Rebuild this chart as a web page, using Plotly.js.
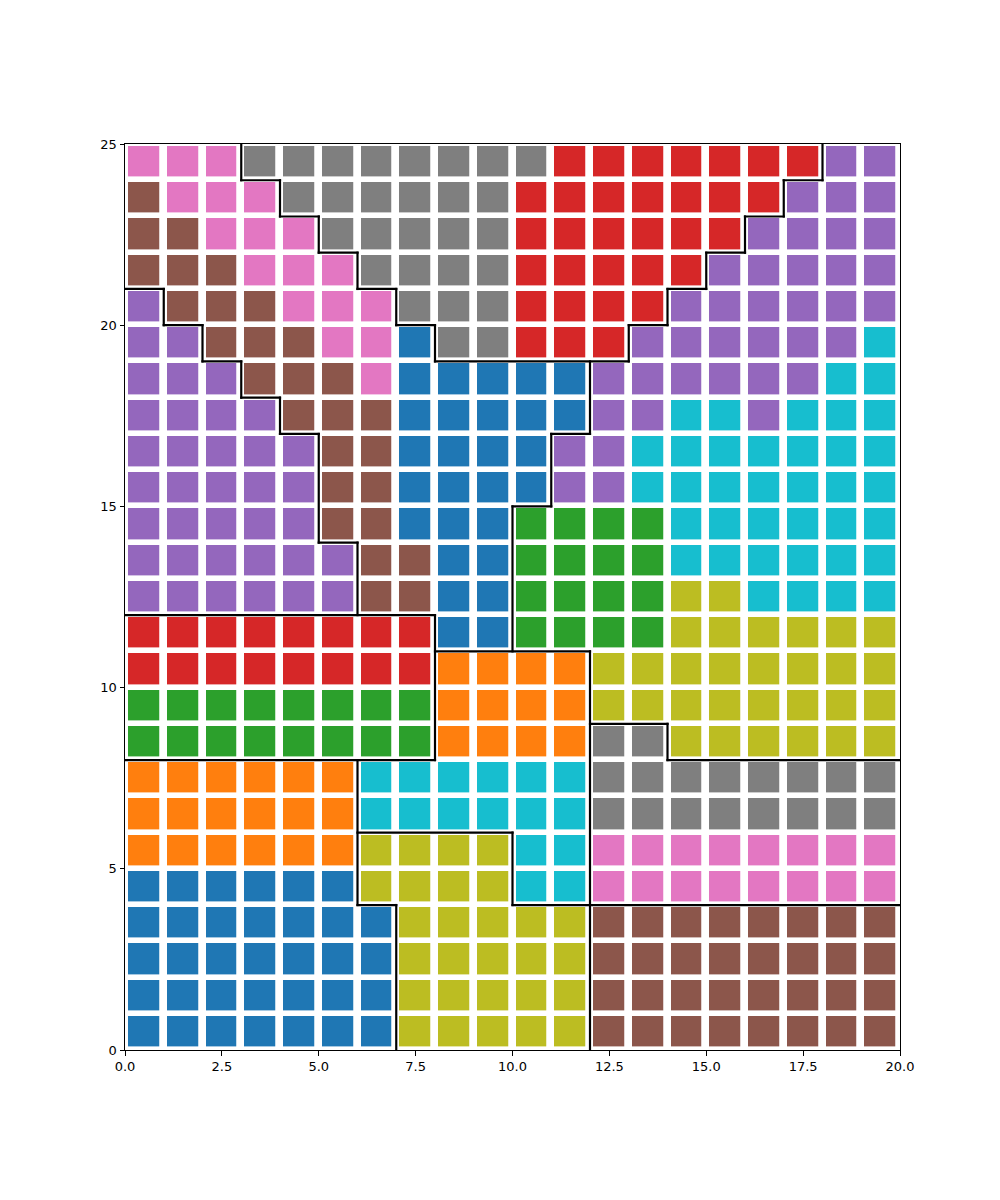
<!DOCTYPE html>
<html>
<head>
<meta charset="utf-8">
<script src="https://cdn.plot.ly/plotly-3.0.1.min.js"></script>
<style>
  html, body { margin: 0; padding: 0; background: #fff; }
  #chart .scatterlayer .js-line { stroke-linecap: square; }
</style>
</head>
<body>
<div id="chart" style="width:1000px;height:1200px;"></div>
<script>
// Category codes and colours (tab10)
const categories = ['blue', 'orange', 'green', 'red', 'purple', 'brown', 'pink', 'gray', 'olive', 'cyan'];
const codes = ['B', 'O', 'G', 'R', 'P', 'N', 'K', 'Y', 'L', 'C'];
const colors = ['#1f77b4', '#ff7f0e', '#2ca02c', '#d62728', '#9467bd', '#8c564b', '#e377c2', '#7f7f7f', '#bcbd22', '#17becf'];

// Cell colours, one string per row, top row (y 24-25) first, 20 columns
const cellRows = [
  'KKKYYYYYYYYRRRRRRRPP',
  'NKKKYYYYYYRRRRRRRPPP',
  'NNKKKYYYYYRRRRRRPPPP',
  'NNNKKKYYYYRRRRRPPPPP',
  'PNNNKKKYYYRRRRPPPPPP',
  'PPNNNKKBYYRRRPPPPPPC',
  'PPPNNNKBBBBBPPPPPPCC',
  'PPPPNNNBBBBBPPCCPCCC',
  'PPPPPNNBBBBPPCCCCCCC',
  'PPPPPNNBBBBPPCCCCCCC',
  'PPPPPNNBBBGGGGCCCCCC',
  'PPPPPPNNBBGGGGCCCCCC',
  'PPPPPPNNBBGGGGLLCCCC',
  'RRRRRRRRBBGGGGLLLLLL',
  'RRRRRRRROOOOLLLLLLLL',
  'GGGGGGGGOOOOLLLLLLLL',
  'GGGGGGGGOOOOYYLLLLLL',
  'OOOOOOCCCCCCYYYYYYYY',
  'OOOOOOCCCCCCYYYYYYYY',
  'OOOOOOLLLLCCKKKKKKKK',
  'BBBBBBLLLLCCKKKKKKKK',
  'BBBBBBBLLLLLNNNNNNNN',
  'BBBBBBBLLLLLNNNNNNNN',
  'BBBBBBBLLLLLNNNNNNNN',
  'BBBBBBBLLLLLNNNNNNNN'
];

// Group membership of each cell (outlined regions), same layout
const groupRows = [
  'iiijjjjjjjjjjjjjjjgg',
  'iiiijjjjjjjjjjjjjggg',
  'iiiiijjjjjjjjjjjgggg',
  'iiiiiijjjjjjjjjggggg',
  'hiiiiiijjjjjjjgggggg',
  'hhiiiiiijjjjjggggggg',
  'hhhiiiiiiiiigggggggg',
  'hhhhiiiiiiiigggggggg',
  'hhhhhiiiiiiggggggggg',
  'hhhhhiiiiiiggggggggg',
  'hhhhhiiiiigggggggggg',
  'hhhhhhiiiigggggggggg',
  'hhhhhhiiiigggggggggg',
  'ffffffffiigggggggggg',
  'ffffffffccccgggggggg',
  'ffffffffccccgggggggg',
  'ffffffffcccceegggggg',
  'aaaaaacccccceeeeeeee',
  'aaaaaacccccceeeeeeee',
  'aaaaaabbbbcceeeeeeee',
  'aaaaaabbbbcceeeeeeee',
  'aaaaaaabbbbbdddddddd',
  'aaaaaaabbbbbdddddddd',
  'aaaaaaabbbbbdddddddd',
  'aaaaaaabbbbbdddddddd'
];

const xTicks = [0, 2.5, 5, 7.5, 10, 12.5, 15, 17.5, 20];
const xTickText = ['0.0', '2.5', '5.0', '7.5', '10.0', '12.5', '15.0', '17.5', '20.0'];
const yTicks = [0, 5, 10, 15, 20, 25];
const yTickText = ['0', '5', '10', '15', '20', '25'];

// ---- build data structures ----
const nRows = cellRows.length, nCols = cellRows[0].length;
const xs = [], ys = [];
for (let c = 0; c < nCols; c++) xs.push(c + 0.5);
for (let r = 0; r < nRows; r++) ys.push(r + 0.5);
const z = [], g = [];
for (let r = 0; r < nRows; r++) {
  const src = cellRows[nRows - 1 - r];
  const gs = groupRows[nRows - 1 - r];
  z.push(src.split('').map(ch => codes.indexOf(ch)));
  g.push(gs.split(''));
}
const nCat = categories.length;
const colorscale = colors.map((col, i) => [i / (nCat - 1), col]);

// boundary runs between different groups
const lx = [], ly = [];
for (let c = 0; c < nCols - 1; c++) {
  let start = null;
  for (let r = 0; r <= nRows; r++) {
    const diff = r < nRows && g[r][c] !== g[r][c + 1];
    if (diff && start === null) start = r;
    if (!diff && start !== null) {
      lx.push(c + 1, c + 1, null); ly.push(start, r, null); start = null;
    }
  }
}
for (let r = 0; r < nRows - 1; r++) {
  let start = null;
  for (let c = 0; c <= nCols; c++) {
    const diff = c < nCols && g[r][c] !== g[r + 1][c];
    if (diff && start === null) start = c;
    if (!diff && start !== null) {
      lx.push(start, c, null); ly.push(r + 1, r + 1, null); start = null;
    }
  }
}

const traces = [
  {
    type: 'heatmap', x: xs, y: ys, z: z,
    zmin: 0, zmax: nCat - 1, colorscale: colorscale, showscale: false,
    xgap: 7.75, ygap: 5.6, hoverinfo: 'skip'
  },
  {
    type: 'scatter', mode: 'lines', x: lx, y: ly,
    line: { color: '#000000', width: 2.2 }, hoverinfo: 'skip', showlegend: false
  }
];

const axisCommon = {
  showgrid: false, zeroline: false, showline: true, mirror: true,
  linecolor: '#000000', linewidth: 1, ticks: 'outside', ticklen: 4.5,
  tickwidth: 1, tickcolor: '#000000',
  tickfont: { family: 'DejaVu Sans', size: 13, color: '#000000' }
};

const layout = {
  width: 1000, height: 1200,
  margin: { l: 125, r: 100, t: 144, b: 150, pad: 0 },
  paper_bgcolor: '#ffffff', plot_bgcolor: '#ffffff',
  showlegend: false,
  xaxis: Object.assign({}, axisCommon, {
    range: [0, 20], tickmode: 'array', tickvals: xTicks, ticktext: xTickText
  }),
  yaxis: Object.assign({}, axisCommon, {
    range: [0, 25], tickmode: 'array', tickvals: yTicks, ticktext: yTickText
  })
};

Plotly.newPlot('chart', traces, layout, { displayModeBar: false, staticPlot: true });
</script>
</body>
</html>
